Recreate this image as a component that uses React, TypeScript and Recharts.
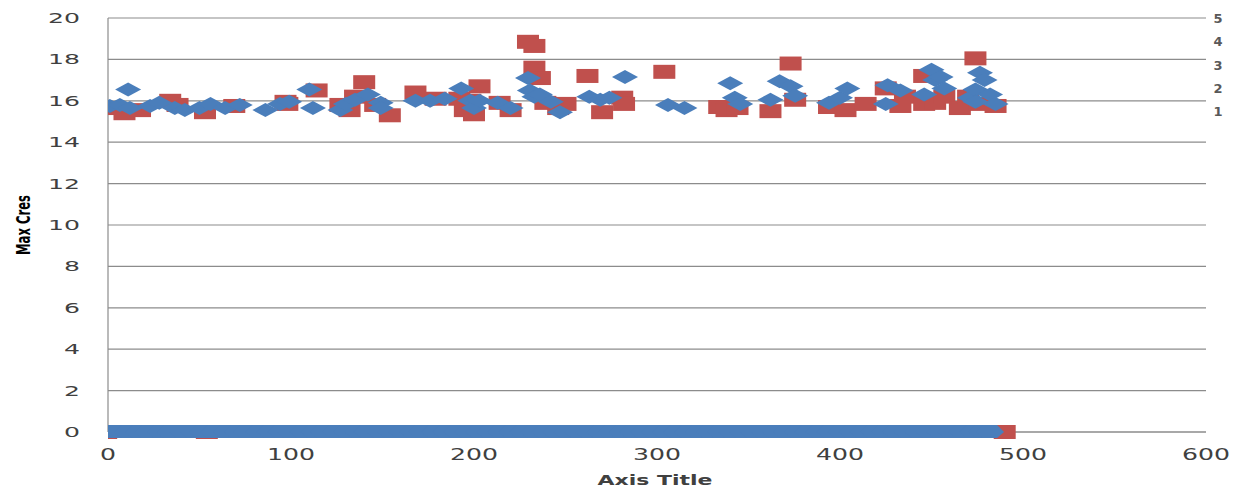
import React from "react";
import { ScatterChart, Scatter, XAxis, YAxis, CartesianGrid } from "recharts";

// red squares (series 2)
const redX = [0, 9, 17.5, 34, 38, 53, 69, 97, 98, 114, 127, 132, 140, 135, 146, 154, 168, 179, 192, 195, 200, 203, 198, 214, 220, 229.5, 233, 233, 236, 239, 246, 250, 262, 270, 281, 282, 304, 334, 338, 344, 362, 373, 375.5, 394, 403, 414, 425, 433, 435.5, 446, 446, 452, 457, 465.5, 474, 476.5, 485, 470];
const redY = [15.65, 15.4, 15.55, 16.0, 15.8, 15.45, 15.75, 15.95, 15.85, 16.5, 15.8, 15.55, 16.9, 16.2, 15.8, 15.3, 16.4, 16.1, 16.1, 15.55, 15.35, 16.7, 16.0, 15.9, 15.55, 18.85, 18.65, 17.6, 17.1, 15.9, 15.65, 15.85, 17.2, 15.45, 16.15, 15.85, 17.4, 15.7, 15.55, 15.65, 15.5, 17.8, 16.05, 15.7, 15.55, 15.85, 16.6, 15.75, 16.2, 15.85, 17.2, 15.9, 16.2, 15.65, 18.05, 15.85, 15.75, 16.2];

// blue diamonds (series 1)
const blueX = [11, 1, 6.5, 12, 23, 28, 36.5, 42, 50, 56, 64, 72, 86, 94, 99, 110, 112, 127, 130, 135, 142, 149, 149, 168, 176, 184, 193, 198, 200, 203, 213, 220, 229.5, 230.5, 233, 236, 242, 247, 263, 269, 274, 282.5, 306, 315, 340, 342.5, 345.5, 362, 367, 373, 375.5, 394, 400, 404, 425, 426, 433, 446, 450, 452, 455, 457, 471, 474, 476.5, 479, 482, 485, 474];
const blueY = [16.55, 15.75, 15.8, 15.65, 15.75, 15.9, 15.65, 15.55, 15.65, 15.85, 15.65, 15.8, 15.55, 15.85, 15.95, 16.55, 15.65, 15.55, 15.85, 16.05, 16.3, 15.9, 15.65, 16.0, 16.0, 16.1, 16.6, 16.0, 15.65, 16.0, 15.9, 15.65, 17.1, 16.5, 16.2, 16.3, 15.95, 15.45, 16.2, 16.05, 16.15, 17.15, 15.8, 15.65, 16.85, 16.15, 15.85, 16.05, 16.95, 16.7, 16.25, 15.9, 16.15, 16.6, 15.85, 16.75, 16.5, 16.3, 17.5, 17.0, 17.15, 16.6, 16.15, 16.55, 17.35, 17.0, 16.3, 15.85, 15.95];

// points sitting on zero
const blueZeroX = [0, 5, 11, 17, 22, 29, 34, 41, 47, 52, 58, 65, 71, 76, 83, 89, 95, 100, 107, 113, 118, 125, 131, 137, 142, 149, 155, 161, 167, 172, 179, 185, 191, 197, 203, 209, 215, 221, 227, 233, 239, 245, 251, 257, 263, 269, 275, 281, 287, 293, 299, 305, 311, 317, 323, 329, 335, 341, 347, 353, 359, 365, 371, 377, 383, 389, 395, 401, 407, 413, 419, 425, 431, 437, 443, 449, 455, 461, 467, 473, 478, 482];
const redZeroX = [-1, 54, 490];

const xTicks = [0, 100, 200, 300, 400, 500, 600];
const yTicks = [0, 2, 4, 6, 8, 10, 12, 14, 16, 18, 20];
const rightTicks = [1, 2, 3, 4, 5];

const red = redX.map((x, i) => ({ x, y: redY[i] })).concat(redZeroX.map((x) => ({ x, y: 0 })));
const blue = blueX.map((x, i) => ({ x, y: blueY[i] }));
const blueZero = blueZeroX.map((x) => ({ x, y: 0 }));
const rightAnchor = rightTicks.map((v) => ({ x: 0, y: v }));

const FONT = "'DejaVu Sans', Verdana, sans-serif";
const BLUE = "#4A7EBB";

const Square = (p: any) => (
  <rect x={p.cx - 11} y={p.cy - 7} width={22} height={14} fill="#C0504D" />
);
const Diamond = (p: any) => (
  <polygon
    points={`${p.cx - 13},${p.cy} ${p.cx},${p.cy - 7} ${p.cx + 13},${p.cy} ${p.cx},${p.cy + 7}`}
    fill={BLUE}
  />
);
// flattened marker for the dense run of zeros so it reads as one band
const ZeroMark = (p: any) => (
  <polygon
    points={`${p.cx - 14},${p.cy} ${p.cx - 7},${p.cy - 7} ${p.cx + 7},${p.cy - 7} ${p.cx + 14},${p.cy} ${p.cx + 7},${p.cy + 6} ${p.cx - 7},${p.cy + 6}`}
    fill={BLUE}
  />
);
const Nothing = () => <g />;

const XTick = (p: any) => {
  const s = String(p.payload.value);
  return (
    <text x={p.x} y={460} textAnchor="middle" fontFamily={FONT} fontSize={15} fill="#404040" textLength={s.length * 16} lengthAdjust="spacingAndGlyphs">
      {s}
    </text>
  );
};

const YTick = (p: any) => {
  const s = String(p.payload.value);
  return (
    <text x={80} y={p.y + 5} textAnchor="end" fontFamily={FONT} fontSize={14} fill="#404040" textLength={s.length * 16} lengthAdjust="spacingAndGlyphs">
      {s}
    </text>
  );
};

const RTick = (p: any) => (
  <text x={1218} y={p.y + 5} textAnchor="middle" fontFamily={FONT} fontSize={13} fontWeight="bold" fill="#595959">
    {p.payload.value}
  </text>
);

export default function App() {
  return (
    <div style={{ width: 1236, height: 499, background: "#fff" }}>
      <style>{`body{margin:0}`}</style>
      <ScatterChart width={1236} height={499} margin={{ top: 18, right: 4, bottom: 7, left: 48 }}>
        <CartesianGrid yAxisId="left" vertical={false} stroke="#8c8c8c" strokeWidth={1.2} />
        <XAxis
          type="number"
          dataKey="x"
          domain={[0, 600]}
          allowDataOverflow
          ticks={xTicks}
          height={60}
          tickLine={false}
          axisLine={{ stroke: "#8c8c8c", strokeWidth: 1.2 }}
          tick={<XTick />}
          label={{
            content: () => (
              <text x={655} y={485} textAnchor="middle" fontFamily={FONT} fontSize={14} fontWeight="bold" fill="#404040" textLength={115} lengthAdjust="spacingAndGlyphs">
                Axis Title
              </text>
            ),
          }}
        />
        <YAxis
          yAxisId="left"
          type="number"
          dataKey="y"
          domain={[0, 20]}
          ticks={yTicks}
          width={60}
          tickLine={false}
          axisLine={{ stroke: "#8c8c8c", strokeWidth: 1.2 }}
          tick={<YTick />}
          label={{
            content: () => (
              <text
                transform="translate(30,225) rotate(-90) scale(1,1.55)"
                textAnchor="middle"
                fontFamily={FONT}
                fontSize={13}
                fontWeight="bold"
                fill="#000"
                textLength={60}
                lengthAdjust="spacingAndGlyphs"
              >
                Max Cres
              </text>
            ),
          }}
        />
        <YAxis
          yAxisId="right"
          orientation="right"
          type="number"
          dataKey="y"
          domain={[-12.8, 5]}
          allowDataOverflow
          ticks={rightTicks}
          width={26}
          tickLine={false}
          axisLine={false}
          tick={<RTick />}
        />
        <Scatter yAxisId="right" data={rightAnchor} shape={<Nothing />} isAnimationActive={false} />
        <Scatter yAxisId="left" data={red} shape={<Square />} isAnimationActive={false} />
        <Scatter yAxisId="left" data={blueZero} shape={<ZeroMark />} isAnimationActive={false} />
        <Scatter yAxisId="left" data={blue} shape={<Diamond />} isAnimationActive={false} />
      </ScatterChart>
    </div>
  );
}
